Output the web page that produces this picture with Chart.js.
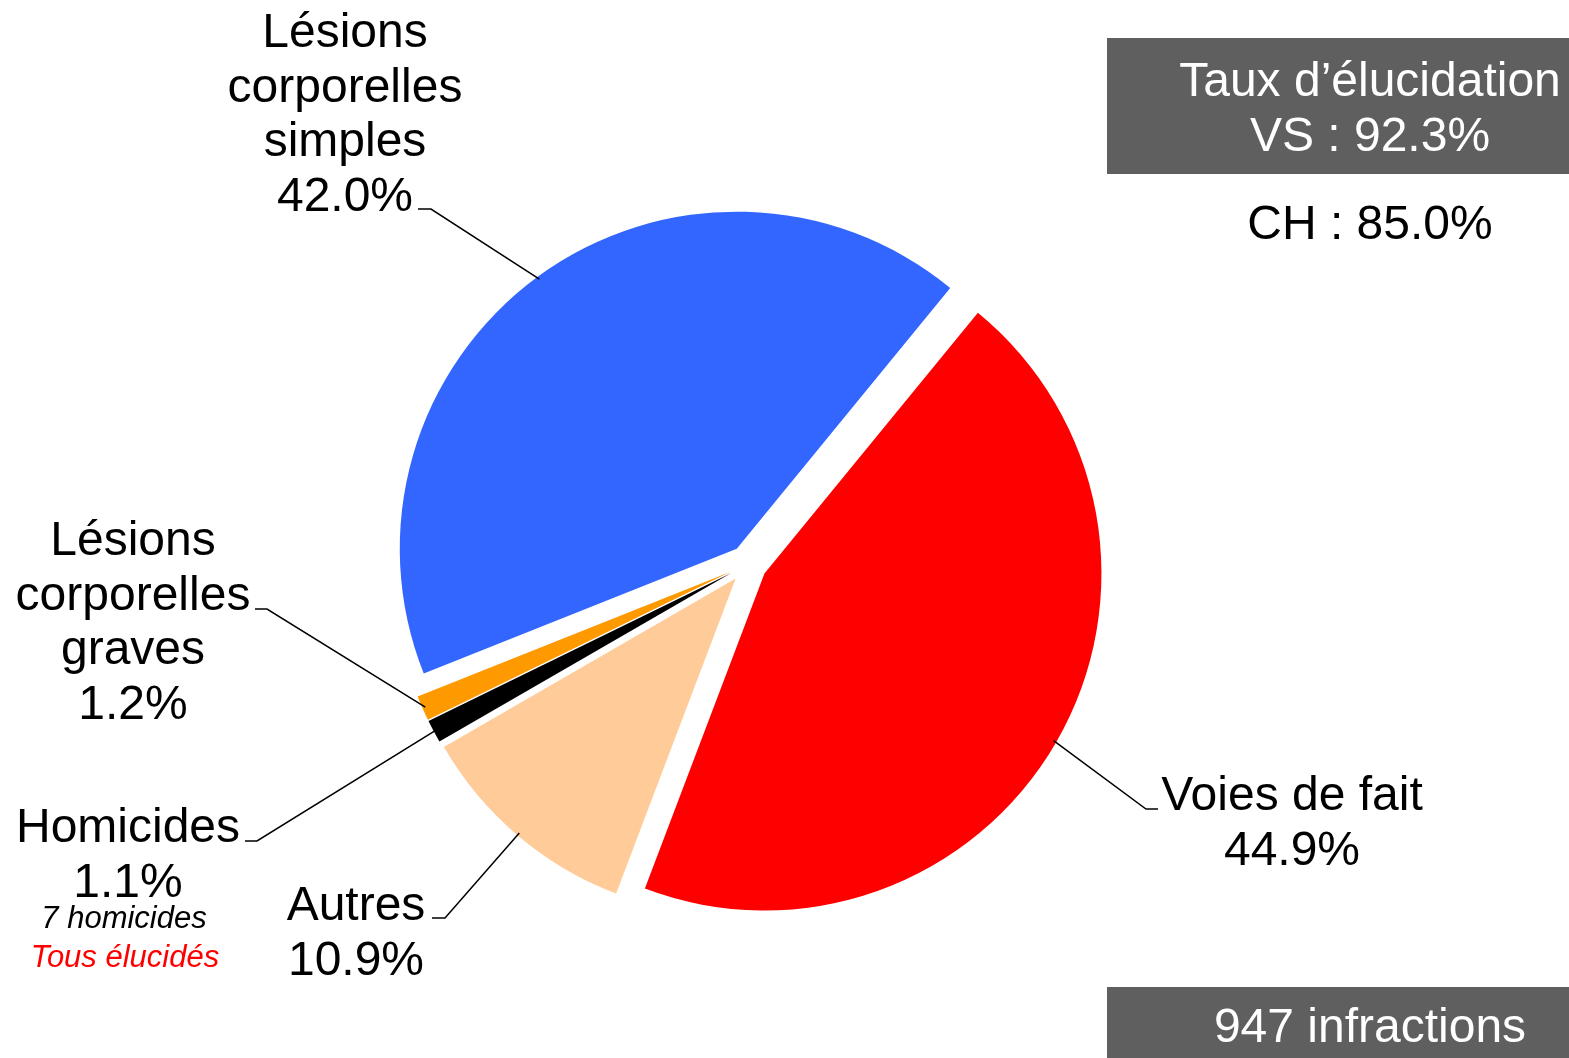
<!DOCTYPE html>
<html lang="fr">
<head>
<meta charset="utf-8">
<title>Infractions violentes</title>
<script src="https://cdn.jsdelivr.net/npm/chart.js@4.4.1/dist/chart.umd.min.js"></script>
<style>
  html, body { margin: 0; padding: 0; background: #fff; }
  #wrap { position: relative; width: 1569px; height: 1058px; overflow: hidden;
          font-family: "Liberation Sans", Arial, sans-serif; }
  #chart { position: absolute; left: 0; top: 0; }
  .box { position: absolute; background: #5f5f5f; }
  .line { position: absolute; width: 600px; text-align: center; font-size: 48px;
          line-height: 54px; white-space: nowrap; }
</style>
</head>
<body>
<div id="wrap">
  <canvas id="chart" width="1569" height="1058"></canvas>
  <div class="box" style="left:1107px; top:38px; width:462px; height:136px;"></div>
  <div class="box" style="left:1107px; top:987px; width:462px; height:71px;"></div>
  <div class="line" style="left:1070px; top:53px; color:#fff;">Taux d’élucidation</div>
  <div class="line" style="left:1070px; top:108px; color:#fff;">VS : 92.3%</div>
  <div class="line" style="left:1070px; top:196px; color:#000;">CH : 85.0%</div>
  <div class="line" style="left:1070px; top:999px; color:#fff;">947 infractions</div>
</div>
<script>
// share of offences by category (%)
const categories = [
  ["Voies de fait"],
  ["Autres"],
  ["Homicides"],
  ["Lésions", "corporelles", "graves"],
  ["Lésions", "corporelles", "simples"]
];
const shares = [44.9, 10.9, 1.1, 1.2, 42.0];
const homicideNotes = ["7 homicides", "Tous élucidés"];

const colors = ["#ff0000", "#ffcc99", "#000000", "#ff9900", "#3366ff"];

// where each label sits: text centre x, first baseline y, elbow of the leader line
const labelSpots = [
  { x: 1292, y: 810, ex: 1146, ey: 809, tail: 12 },
  { x: 356, y: 920, ex: 445, ey: 918, tail: -13 },
  { x: 128, y: 842, ex: 257, ey: 841, tail: -12 },
  { x: 133, y: 555, ex: 267, ey: 609, tail: -12 },
  { x: 345, y: 47, ex: 431, ey: 209, tail: -13 }
];

const EXPLODE = 19;
const FONT = "'Liberation Sans', Arial, sans-serif";

// pull every slice out along its middle angle, keeping one radius for all
const explodePlugin = {
  id: "explode",
  afterDatasetUpdate(chart, args) {
    chart.getDatasetMeta(args.index).data.forEach(function (arc) {
      const mid = (arc.startAngle + arc.endAngle) / 2;
      arc.x += Math.cos(mid) * EXPLODE;
      arc.y += Math.sin(mid) * EXPLODE;
    });
  }
};

const labelPlugin = {
  id: "sliceLabels",
  afterDatasetsDraw(chart) {
    const ctx = chart.ctx;
    const arcs = chart.getDatasetMeta(0).data;
    ctx.save();
    arcs.forEach(function (arc, i) {
      const spot = labelSpots[i];
      const mid = (arc.startAngle + arc.endAngle) / 2;
      const r = arc.outerRadius - 3;
      ctx.strokeStyle = "#000";
      ctx.lineWidth = 1.5;
      ctx.beginPath();
      ctx.moveTo(arc.x + Math.cos(mid) * r, arc.y + Math.sin(mid) * r);
      ctx.lineTo(spot.ex, spot.ey);
      ctx.lineTo(spot.ex + spot.tail, spot.ey);
      ctx.stroke();

      const lines = [].concat(categories[i], shares[i].toFixed(1) + "%");
      ctx.font = "48px " + FONT;
      ctx.fillStyle = "#000";
      ctx.textAlign = "center";
      ctx.textBaseline = "alphabetic";
      lines.forEach(function (t, k) {
        ctx.fillText(t, spot.x, spot.y + k * 54.5);
      });
    });

    // note under the homicides label
    ctx.font = "italic 31px " + FONT;
    ctx.fillStyle = "#000";
    ctx.fillText(homicideNotes[0], 124, 928);
    ctx.fillStyle = "#ff0000";
    ctx.fillText(homicideNotes[1], 125, 967);
    ctx.restore();
  }
};

new Chart(document.getElementById("chart"), {
  type: "pie",
  data: {
    labels: categories,
    datasets: [{
      data: shares,
      backgroundColor: colors,
      borderWidth: 0
    }]
  },
  options: {
    responsive: false,
    animation: false,
    events: [],
    rotation: 39.3,
    radius: 337,
    layout: { padding: { left: 0, right: 73, top: 70, bottom: 0 } },
    plugins: {
      legend: { display: false },
      tooltip: { enabled: false }
    }
  },
  plugins: [explodePlugin, labelPlugin]
});
</script>
</body>
</html>
